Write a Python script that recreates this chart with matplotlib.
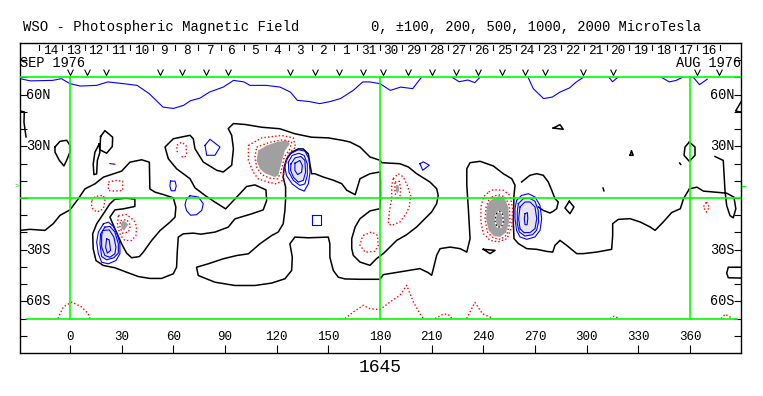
import matplotlib
matplotlib.use("Agg")
import matplotlib.pyplot as plt
from matplotlib.path import Path

# ---- text / axis data ----
title_left = "WSO - Photospheric Magnetic Field"
title_right = "0, \u00b1100, 200, 500, 1000, 2000 MicroTesla"
rotation = "1645"
lon_ticks = list(range(0, 361, 30))
lat_ticks = list(range(-80, 81, 10))
lat_labels = {60: "60N", 30: "30N", -30: "30S", -60: "60S"}
day_labels = ["14", "13", "12", "11", "10", "9", "8", "7", "6", "5", "4", "3", "2", "1",
              "31", "30", "29", "28", "27", "26", "25", "24", "23", "22", "21", "20",
              "19", "18", "17", "16"]
day_first_lon = -17.8   # longitude of 0h UT on Sep 14
day_step = 13.175       # degrees per day
obs_lons = [0, 10, 21, 52, 65, 79, 92, 128, 142, 156, 170, 182, 196, 210, 224, 237,
            251, 264, 276, 298, 315, 364, 377]

# ---- neutral / black contours (lon, lat) ----
black_main = [
    (-29, -18.8), (-23.2, -18.2), (-14.5, -18.8), (-9.7, -14.9), (-5.8, -10.1), (0, -6.9),
    (4.8, -0.5), (8.7, 5.3), (14.5, 8.2), (19.4, 12.1), (25.2, 14), (30, 15.6), (34.8, 20.8),
    (41.6, 22.2), (46.1, 20.8), (46.4, 5.3), (49.4, 3.4), (54.2, 2), (60, 0.1), (61.5, -5.3),
    (61, -11.1), (58.1, -14), (52.3, -18.9), (47.4, -24.7), (42.6, -31.4), (40.3, -34),
    (35.8, -34.7), (32.9, -32), (30, -26.6), (26.1, -17.9), (23.2, -11.1), (26.1, -6.9),
    (31, -6.3), (37.7, -4.9), (37.7, -0.7), (32.9, -0.1), (26.1, -0.7), (23.2, -3.4),
    (19.4, -9.2), (15.5, -15), (13.2, -20.8), (13.5, -29.5), (15.1, -36.3), (19.4, -39.2),
    (26.1, -40.5), (32.9, -43.1), (39.7, -45.6), (46.4, -46.7), (53.2, -46.7), (60, -44),
    (61.9, -40.2), (62.3, -31.4), (62.9, -22.7), (65.8, -20.8), (71.6, -20.4), (76, -21),
    (84.2, -19.8), (91.9, -16.9), (95.8, -12.1), (105.5, -9.2), (112.2, -6.9), (114.2, -1.5),
    (113.8, 4.7), (107.4, 7.6), (102.6, 6.7), (96.8, 0.5), (90.4, -6.3), (84.2, -2.4),
    (78.4, 1.5), (72.6, 5.9), (69.7, 11.2), (61.9, 17), (57.1, 22.8), (55.2, 29.6), (60, 34.4),
    (69.7, 36.4), (71.6, 34.4), (72.6, 28.6), (77.4, 20.9), (85.2, 16.1), (89, 15.1),
    (93.9, 19), (94.9, 28.6), (93.9, 36.4), (91.9, 40.3), (94.9, 43.2), (101.6, 42.7),
    (111.3, 41.1), (121.9, 40.2), (130.6, 37.3), (140.3, 35.3), (150, 34.9), (158.7, 33.4),
    (162.6, 32.5), (168.4, 29.6), (174.2, 23.8), (180, 21.9), (181, 20.5), (191.6, 19.9),
    (196.5, 18), (201.3, 14.1), (209, 9.3), (212.9, 5.4), (213.8, 1.5), (212.9, -3.3),
    (210, -8.1), (206.1, -12), (201.3, -16.8), (195.5, -21.3), (189.7, -24.6), (185.8, -28.5),
    (181.9, -32.3), (178, -35.2), (174.2, -39.1), (168.4, -37.2), (164.5, -33.3),
    (163.6, -29.4), (163.6, -23.6), (165.6, -16.8), (168.4, -12), (174.2, -7.5), (180, -6.2),
    (180.3, 0), (180.3, 10), (180, 15.1), (174.2, 14.1), (168.4, 11.2), (165.6, 1.9),
    (160.7, 4.5), (157.8, 8.3), (153, 10.3), (147, 12.2), (142.2, 14.1), (140.3, 14.1),
    (139.3, 19.8), (138.4, 25.6), (135.4, 28.5), (132.6, 28.5), (128.7, 26.6), (125.8, 22.7),
    (124.4, 17.9), (123.8, 12.1), (125.2, 6.3), (125.2, -0.5), (124.8, -7.3), (123.8, -15),
    (120.9, -19.8), (117.1, -21.8), (110.3, -26.6), (103.6, -32.4), (96.8, -33.4),
    (89, -35.3), (80.3, -38.2), (73.5, -40.2), (74.5, -45), (84.2, -48.9), (95.8, -50.8),
    (107.4, -50.8), (117.1, -49.4), (124.8, -46.9), (128.7, -42.1), (129.1, -34.4),
    (127.7, -26.6), (130.6, -22.7), (138.4, -23.1), (150, -22.7), (150.9, -26.6),
    (150.9, -34.4), (152.9, -42.1), (155.8, -46), (159.7, -47), (168.4, -47.2), (180, -47.2),
    (181.9, -44.5), (193.6, -42.6), (203.2, -41), (208.1, -43.4), (210, -44.9), (211, -41),
    (212.9, -33.3), (214.9, -29.4), (220.7, -28.5), (226.5, -29.4), (230.4, -31.4),
    (232.3, -23.6), (231.3, -6.2), (230.4, 7.4), (230.4, 17), (232.3, 20.5), (238.1, 21.3),
    (245.8, 18.6), (251.6, 14.1), (256.5, 11.2), (258.4, 7.4), (257.8, 1.5), (257.4, -13.9),
    (257.8, -23.6), (260.4, -26.5), (265.2, -29.4), (271, -29.8), (276.8, -31), (280.3, -31.4),
    (281.6, -27.5), (284.5, -24.6), (288.4, -27.5), (294.2, -32.3), (298.1, -32.3),
    (305.8, -31.4), (314.5, -29.8), (315.1, -21.7), (315.1, -14.9), (318.4, -12.4),
    (325.2, -12), (331, -13.9), (336.8, -16.8), (339.7, -18.8), (344.5, -13.9), (349.3, -8.5),
    (354.4, -6.2), (356.2, -0.5), (359.6, 5.3), (364, 6.3), (367.8, 4), (381.3, 2.8),
    (385.5, 0.5), (386.6, -6.3), (385.1, -11.5), (383.2, -10.2), (381.3, -4.4), (380.3, 4.4),
    (379.3, 21.8), (374.5, 24.1)]
black_east = [(262.2, 9.3), (267.1, 13.2), (271, 14.1), (274.8, 13.2), (277.7, 9.3),
              (279.7, 4.5), (281.6, -0.4), (283.5, -2.3), (282.6, -6.2), (280.6, -7.7),
              (278.7, -8.7), (274.8, -7.2), (271.9, -5.2)]
black_edge_w = [(-29, 50.5), (-26.5, 50), (-26.7, 44), (-25.5, 35.5)]
black_edge_e = [(390, 56.5), (386.5, 50.5), (390, 49.8)]
black_loop_w = [(-8.7, 29.6), (-5.8, 32.9), (-1.9, 33.5), (0, 30.6), (0, 26.7), (-1.9, 21.9),
                (-3.5, 18.6), (-6.2, 21.9), (-8.7, 26.7), (-8.7, 29.6)]
black_pent = [(17.8, 35.7), (20.3, 39.1), (24.8, 35.3), (24.6, 29.9), (21.3, 26), (17.4, 28),
              (17.8, 35.7)]
black_thin = [(17, 31.4), (14.5, 26.6), (13.5, 19.8), (13.9, 13.6), (15.5, 14), (15.9, 21.8),
              (17.4, 26.6), (17, 31.4)]
black_tri_s = [(240, -29.8), (246.8, -30.4), (243.9, -32.3), (240, -29.8)]
black_tri_n = [(280.6, 40.6), (284.5, 42.6), (286.4, 39.9), (280.6, 40.6)]
black_tri_m = [(325.2, 24.8), (326, 27.5), (327, 24.8), (325.2, 24.8)]
black_dia_n = [(359.6, 32.5), (362.9, 29.6), (362.9, 24.8), (359.6, 21.3), (356.5, 24.8),
               (357.1, 29.6), (359.6, 32.5)]
black_dia_s = [(289.9, -1.9), (292.6, -5.2), (290.3, -9.1), (287.4, -5.8), (289.9, -1.9)]
black_edge_se = [(390, -40.2), (382.2, -40.2), (381.3, -43.6), (382.2, -46.3), (390, -46.5)]
black_dots = [[(309.5, 5.8), (310, 4.2)], [(354, 20.3), (354.6, 19.5)]]

# ---- positive (blue) contours ----
blue_top_1 = [(-29, 69.3), (-23, 68), (-10, 68.3), (-5, 69.3), (0, 66.4), (6, 65), (15.5, 65.4),
              (22, 67.4), (31, 66.4), (39, 65.4), (46, 60.6), (54, 52.8), (60, 52), (66, 53.8),
              (70, 56.5), (75.5, 58), (81, 61.5), (89, 64.4), (95, 68.3), (101, 67.4),
              (104.5, 65.4), (114, 65.4), (122, 64.4), (128, 61.5), (132, 56.7), (139, 56),
              (145, 54.8), (151, 56), (157, 57.7), (164.5, 62.5), (170, 67.4), (174, 67.4),
              (180, 66.4), (186, 62.5), (192, 64.4), (199, 63.5), (204, 70)]
blue_top_2 = [(222, 70), (226, 67.5), (231, 68.5), (235, 67), (238, 70)]
blue_top_3 = [(266, 70), (269, 63.5), (275, 57.7), (280, 58.6), (284.5, 61.5), (290, 63.9),
              (294, 67.4), (298, 70)]
blue_top_4 = [(313, 70), (315, 67.5), (318, 70)]
blue_top_5 = [(343.5, 70), (348, 67.4), (352, 68.3), (355.5, 70)]
blue_top_6 = [(362, 70), (365.5, 65.8), (370, 69)]
blue_dash = [(23.2, 20), (26.1, 19.6)]
blue_oval = [(58.4, 9.8), (61, 9.8), (61.7, 7), (61, 4.2), (58.8, 4.2), (58, 7), (58.4, 9.8)]
blue_loop = [(69.7, 1.3), (74.5, 0.6), (77.4, -3.3), (76.5, -7.2), (73.5, -9.7), (70, -10),
             (67.7, -7.3), (66.8, -4), (67.5, -1), (69.7, 1.3)]
blue_pent = [(78.4, 30.6), (81.3, 34.1), (87.1, 29.6), (84.2, 24.8), (79.4, 24.8), (78.4, 30.6)]
blue_square = [(140.3, -9.7), (145.5, -9.7), (145.5, -15.5), (140.3, -15.5), (140.3, -9.7)]
blue_tri = [(203.2, 19.9), (205.2, 21), (208.6, 19), (204.8, 16.1), (203.2, 19.9)]

spot_a_1 = [(19.4, -15), (22.3, -14), (25.2, -16.5), (27.5, -20.8), (29, -26.6), (29, -32.4),
            (26.7, -36.3), (22.3, -38.2), (18.4, -37.3), (16.5, -32.4), (15.5, -25.6),
            (16.5, -19.8), (19.4, -15)]
spot_a_2 = [(20.3, -16.9), (23.2, -16.5), (26.1, -19.8), (28.1, -26.6), (28.1, -32),
            (25.5, -34.7), (21.3, -35.9), (18.4, -34), (17.4, -26.6), (17.8, -20.8), (20.3, -16.9)]
spot_a_3 = [(19, -18.9), (22.8, -18.5), (25.5, -22.7), (26.7, -28.5), (26.1, -32.4),
            (23.2, -34.4), (20.3, -33.4), (18.4, -28.5), (18.4, -21.8), (19, -18.9)]
spot_a_4 = [(21.3, -23.7), (22.8, -24.3), (23.6, -30.5), (21.7, -32), (20.7, -28.5), (21.3, -23.7)]

spot_b_1 = [(125.2, 20.8), (127.7, 25.6), (132.6, 28), (136.4, 27.2), (138.8, 22.7),
            (139.4, 15), (138.4, 8.2), (136, 4), (132.9, 5.3), (129, 8.2), (125.7, 13.1),
            (124.8, 17.9), (125.2, 20.8)]
spot_b_2 = [(126.8, 20.8), (129, 24.7), (132.9, 26), (136, 24.7), (137.8, 19.8), (137.8, 13.1),
            (136.4, 8.2), (133.5, 7.3), (129.7, 10.2), (127.1, 15), (126.8, 20.8)]
spot_b_3 = [(128.3, 19.8), (130.6, 23.3), (134.1, 24.1), (136.4, 21.8), (136.8, 15),
            (135.5, 10.2), (132.6, 9.2), (129.7, 12.1), (128.1, 16), (128.3, 19.8)]
spot_b_4 = [(130.6, 20.2), (133.5, 21.8), (134.9, 18.9), (134.5, 15), (132.2, 13.6),
            (130.6, 16), (130.6, 20.2)]

spot_c_1 = [(259.3, -1.4), (262.2, 1.5), (266.1, 2.5), (270, 0.6), (272.9, -4.3), (273.9, -12.1),
            (272.9, -18.8), (270, -22.6), (265.2, -24), (261.3, -22.6), (259.3, -18.8),
            (258.4, -12.1), (258.4, -6.2), (259.3, -1.4)]
spot_c_2 = [(260.3, -3.3), (263.2, -0.4), (266.7, 0), (270, -1.9), (271.9, -7.2), (272.1, -13.9),
            (270.9, -18.8), (268.6, -21.3), (264.1, -22.1), (260.9, -19.7), (259.7, -14.9),
            (259.7, -8.1), (260.3, -3.3)]
spot_c_3 = [(261.3, -5.2), (264.2, -2.3), (267.1, -2.3), (270, -5.2), (271, -12), (270, -17.8),
            (267.1, -20.1), (263.6, -20.1), (261.3, -17.8), (260.5, -12), (261.3, -5.2)]
spot_c_4 = [(264.2, -9.1), (265.6, -8.5), (265.8, -12), (265.4, -15.5), (264.2, -15.5),
            (263.8, -12), (264.2, -9.1)]

# ---- negative (red) contours ----
red_bottom_1 = [(-7, -70), (-3.9, -63.3), (1, -60.4), (6.8, -63.3), (10.6, -67.2), (11.6, -70)]
red_bottom_2 = [(159.7, -70), (164.5, -66.2), (170.3, -62.3), (174.2, -64.3), (180, -64.8),
                (185.8, -60.4), (191.6, -56.5), (195.5, -50.7), (199.4, -60.4), (203.2, -67.2),
                (205.2, -70)]
red_bottom_3 = [(212, -70), (216.6, -67.5), (219.5, -67.5), (221.8, -70)]
red_bottom_4 = [(230.3, -70), (235.1, -60.6), (239.5, -67.2), (245.8, -70)]
red_bottom_5 = [(313.5, -70), (316, -68.6), (319, -70)]
red_bottom_6 = [(378, -70), (380.5, -67.5), (384, -69.5)]
red_small_1 = [(22.3, 9.2), (26.1, 10.2), (30.6, 9.8), (30.6, 4.4), (26.1, 4), (22.3, 4.4),
               (22.3, 9.2)]
red_small_2 = [(12.6, -1.5), (14.5, 0.9), (19.4, 1.5), (20.3, -1.5), (19.4, -6.3), (15.5, -8.2),
               (12.6, -5.7), (12.6, -1.5)]
red_small_3 = [(62.3, 26.6), (61.9, 30.5), (64.8, 32.4), (67.4, 30.5), (67.7, 25.6),
               (66.8, 23.7), (63.9, 24.1)]
red_small_4 = [(369.5, -2.4), (371.2, -5.3), (369.5, -8.2), (367.7, -5.3), (369.5, -2.4)]
red_ring_s = [(170.3, -21.7), (175.2, -19.7), (178.5, -21.7), (179, -27.5), (177.1, -31),
              (171.3, -31.4), (168.4, -27.5), (169.4, -23.6), (170.3, -21.7)]
spot_d_1 = [(28.1, -10.2), (32.9, -9.6), (37.2, -13.1), (38.7, -16.5), (38.3, -21.8),
            (35.8, -24.7), (31.9, -24.7), (29.4, -21.8), (27.5, -16), (28.1, -10.2)]
spot_d_2 = [(29.4, -13.1), (32.9, -12.5), (35.2, -16), (33.9, -19.8), (30.6, -20.4),
            (29, -16.9), (29.4, -13.1)]
spot_d_fill = [(29.6, -15), (31, -13), (33.9, -15.4), (31.4, -18.9), (30, -17.9), (29.6, -15)]
spot_e_1 = [(103.6, 30.5), (111.3, 34.9), (122.9, 36.3), (129.7, 34.9), (131, 29.5),
            (126.7, 25.6), (124.8, 17.9), (123.3, 10.2), (119.9, 8.2), (115.1, 9.2),
            (109.3, 11.1), (106.4, 15), (103.6, 21.8), (103.6, 30.5)]
spot_e_2 = [(108.4, 29.5), (116.1, 32.4), (123.8, 33.8), (128.7, 32.4), (127.7, 28.5),
            (124.4, 23.7), (122.5, 15), (120.6, 11.1), (116.1, 11.5), (111.3, 13.6),
            (108.4, 17.9), (107.4, 23.7), (108.4, 29.5)]
spot_e_fill = [(109.3, 27.6), (114.2, 30.5), (119.8, 32.4), (125.8, 33.4), (127.7, 31.4),
               (124.8, 27.6), (122.9, 20.8), (120.9, 13.1), (119, 12.1), (113.2, 14.4),
               (110.3, 16.9), (108.4, 21.8), (109.3, 27.6)]
spot_f_1 = [(187.7, 11.2), (190.6, 14.1), (193.6, 12.2), (195.8, 7.4), (197.8, 1.5), (197, -5.2),
            (195.1, -9.1), (191.6, -13.9), (186.8, -15.9), (184.8, -14.9), (185.4, -8.1),
            (186.8, -0.4), (186.8, 7.4), (187.7, 11.2)]
spot_f_2 = [(188.7, 9.3), (191.2, 9.7), (192, 5.4), (191.6, 0.6), (189.7, -0.8), (188.7, 3.5),
            (188.7, 9.3)]
spot_f_fill = [(189.3, 7.4), (190.6, 7.7), (191.2, 4.5), (190, 2.5), (189.1, 4.5), (189.3, 7.4)]
spot_g_1 = [(243.1, 3.5), (245.8, 4.8), (251.6, 4.5), (255.5, 1.5), (257, -6.2), (256.5, -16.8),
            (253.7, -23.6), (248.7, -25.5), (243.9, -24.6), (240, -20.7), (238.6, -13.9),
            (238.6, -5.2), (240, 0.6), (243.1, 3.5)]
spot_g_2 = [(244.9, 0.6), (248.7, 1.9), (252.6, 0.6), (255.1, -4.3), (255.5, -13.9),
            (253.7, -21.3), (250, -24), (245.8, -23.2), (242.3, -19.7), (241, -12.1),
            (241.6, -5.2), (243.1, -1.4), (244.9, 0.6)]
spot_g_fill = [(245.8, -0.4), (249.3, 1.2), (252.6, -0.8), (254.5, -5.2), (254.9, -13.9),
               (253.2, -20.1), (249.7, -22.6), (246.2, -22.1), (243.1, -18.8), (241.6, -12.1),
               (242, -5.2), (243.5, -1.9), (245.8, -0.4)]
spot_g_core = [(247.4, -9.1), (249.3, -7.7), (251.2, -9.1), (251.6, -13.9), (250.6, -16.8),
               (248.1, -16.8), (246.8, -13.9), (247.4, -9.1)]

black_lines = [black_main, black_east, black_edge_w, black_edge_e, black_loop_w, black_pent,
               black_thin, black_tri_s, black_tri_n, black_tri_m, black_dia_n, black_dia_s,
               black_edge_se] + black_dots
blue_lines = [blue_top_1, blue_top_2, blue_top_3, blue_top_4, blue_top_5, blue_top_6,
              blue_dash, blue_oval, blue_loop, blue_pent, blue_square, blue_tri,
              spot_a_1, spot_a_2, spot_a_3, spot_a_4, spot_b_1, spot_b_2, spot_b_3, spot_b_4,
              spot_c_1, spot_c_2, spot_c_3, spot_c_4]
red_lines = [red_bottom_1, red_bottom_2, red_bottom_3, red_bottom_4, red_bottom_5, red_bottom_6,
             red_small_1, red_small_2, red_small_3, red_small_4, red_ring_s,
             spot_d_1, spot_d_2, spot_e_1, spot_e_2, spot_f_1, spot_f_2, spot_g_1, spot_g_2]
light_fills = [spot_a_2, spot_b_3, spot_c_2]
dark_fills = [spot_d_fill, spot_e_fill, spot_f_fill, spot_g_fill]

MONO = ["Liberation Mono", "DejaVu Sans Mono"]
W, H = 763, 396
fig = plt.figure(figsize=(W / 100, H / 100), dpi=100)
ax = fig.add_axes([20 / W, 1 - 353 / H, 721 / W, 310 / H])
ax.set_xlim(-29.0, 389.6)
ax.set_ylim(-90, 90)

def xy(path):
    return [p[0] for p in path], [p[1] for p in path]

for path in light_fills:
    ax.fill(*xy(path), color="#e6e6e6", lw=0, zorder=1)
for path in dark_fills:
    ax.fill(*xy(path), color="#a0a0a0", lw=0, zorder=1)
for path in black_lines:
    ax.plot(*xy(path), color="black", lw=1.1, zorder=2)
for path in blue_lines:
    ax.plot(*xy(path), color="#0000ff", lw=0.8, zorder=3)
for path in red_lines:
    ax.plot(*xy(path), color="#ff0000", lw=1.0, ls=(0, (1, 1.6)), zorder=3)
ax.plot(*xy(spot_g_core), color="white", lw=1.0, zorder=4)
ax.plot(*xy(spot_g_core), color="black", lw=0.8, ls=(0, (1.5, 2)), zorder=4)

# green reference grid
for lon in (0, 180, 360):
    ax.plot([lon, lon], [-70, 70], color="#00ff00", lw=1.2, zorder=5)
ax.plot([-29, 389.6], [70, 70], color="#00ff00", lw=1.2, zorder=5)
ax.plot([-29, 389.6], [0, 0], color="#00ff00", lw=1.2, zorder=5)
ax.plot([-25, 387], [-70, -70], color="#00ff00", lw=1.2, zorder=5)

# ticks
ax.set_xticks(lon_ticks)
ax.set_yticks(lat_ticks)
ax.tick_params(axis="x", direction="in", length=5.8, width=0.8, bottom=True, top=False,
               labelbottom=False)
ax.tick_params(axis="y", direction="in", length=5.0, width=0.8, left=True, right=True,
               labelleft=False)
for s in ax.spines.values():
    s.set_linewidth(1.0)

for lon in lon_ticks:
    ax.text(lon, -80.8, str(lon), ha="center", va="center", fontsize=9, family=MONO)
for lat, lab in lat_labels.items():
    ax.text(-25.3, lat, lab, ha="left", va="center", fontsize=9.8, family=MONO)
    ax.text(385.6, lat, lab, ha="right", va="center", fontsize=9.8, family=MONO)

# day separators and labels along the top
for i in range(len(day_labels) + 1):
    lon = day_first_lon + i * day_step
    ax.plot([lon, lon], [88.6, 86.2], color="black", lw=0.8, zorder=5)
for i, lab in enumerate(day_labels):
    lon = day_first_lon + (i + 0.5) * day_step
    ax.text(lon, 85.6, lab, ha="center", va="center", fontsize=9.2, family=MONO)
ax.text(-29, 78.6, "SEP 1976", ha="left", va="center", fontsize=9.8, family=MONO)
ax.text(389.6, 78.6, "AUG 1976", ha="right", va="center", fontsize=9.8, family=MONO)

# observation markers: small open "v" shapes above the map
v_mark = Path([(-1, 1), (0, -1), (1, 1)], [Path.MOVETO, Path.LINETO, Path.LINETO])
ax.plot(obs_lons, [72.9] * len(obs_lons), ls="none", marker=v_mark, ms=4.2,
        mfc="none", mec="black", mew=0.8, zorder=5)

# B0 marker
ax.text(-30.5, 6.8, ">", ha="center", va="center", fontsize=6, color="#00ff00",
        family=MONO, clip_on=False)
ax.plot([389.6, 392], [6.8, 6.8], color="#00ff00", lw=1, clip_on=False)

fig.text(23 / W, 1 - 27.5 / H, title_left, ha="left", va="center", fontsize=10, family=MONO)
fig.text(371 / W, 1 - 27.5 / H, title_right, ha="left", va="center", fontsize=9.9, family=MONO)
fig.text(380 / W, 1 - 367 / H, rotation, ha="center", va="center", fontsize=13, family=MONO)

fig.savefig("out.png", dpi=100)
